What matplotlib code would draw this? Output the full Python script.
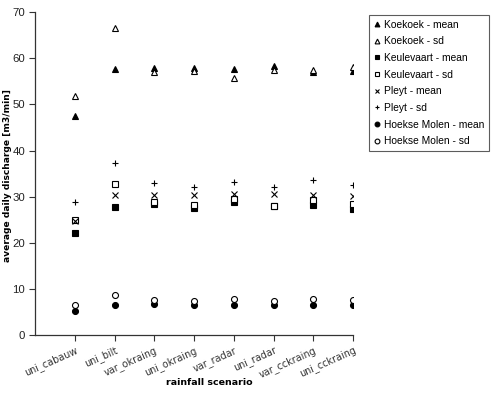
import matplotlib
matplotlib.use("Agg")
import matplotlib.pyplot as plt
import matplotlib.transforms as mtransforms

plt.rcParams['font.family'] = ['Liberation Sans', 'DejaVu Sans']

scenarios = ["uni_cabauw", "uni_bilt", "var_okraing", "uni_okraing",
             "var_radar", "uni_radar", "var_cckraing", "uni_cckraing"]

koekoek_mean = [47.5, 57.6, 57.8, 57.8, 57.6, 58.3, 57.0, 57.3]
koekoek_sd = [51.9, 66.5, 57.1, 57.3, 55.8, 57.4, 57.5, 58.2]
keulevaart_mean = [22.2, 27.7, 28.5, 27.5, 28.8, 27.9, 28.2, 27.4]
keulevaart_sd = [24.9, 32.7, 28.9, 28.1, 29.4, 28.0, 29.3, 28.4]
pleyt_mean = [24.8, 30.4, 30.4, 30.4, 30.6, 30.5, 30.3, 30.1]
pleyt_sd = [28.9, 37.2, 32.9, 32.1, 33.2, 32.1, 33.6, 32.6]
hoekse_mean = [5.3, 6.6, 6.8, 6.6, 6.6, 6.6, 6.6, 6.6]
hoekse_sd = [6.4, 8.6, 7.5, 7.3, 7.9, 7.3, 7.9, 7.5]

fig = plt.figure(figsize=(5.0, 3.93), dpi=100)
ax = fig.add_axes([0.07, 0.1476, 0.636, 0.8214])

x = list(range(1, len(scenarios) + 1))
ms = 4.3
series = [
    ("Koekoek - mean", koekoek_mean, dict(marker='^', mfc='black', mec='black')),
    ("Koekoek - sd", koekoek_sd, dict(marker='^', mfc='white', mec='black')),
    ("Keulevaart - mean", keulevaart_mean, dict(marker='s', mfc='black', mec='black')),
    ("Keulevaart - sd", keulevaart_sd, dict(marker='s', mfc='white', mec='black')),
    ("Pleyt - mean", pleyt_mean, dict(marker='x', mfc='black', mec='black')),
    ("Pleyt - sd", pleyt_sd, dict(marker='+', mfc='black', mec='black')),
    ("Hoekse Molen - mean", hoekse_mean, dict(marker='o', mfc='black', mec='black')),
    ("Hoekse Molen - sd", hoekse_sd, dict(marker='o', mfc='white', mec='black')),
]
handles = []
for label, vals, st in series:
    h, = ax.plot(x, vals, linestyle='none', markersize=ms, markeredgewidth=0.8,
                 label=label, **st)
    handles.append(h)

ax.set_xlim(0, len(scenarios))
ax.set_ylim(0, 70)
ax.set_yticks(range(0, 71, 10))
ax.set_xticks(x)
ax.set_xticklabels(scenarios, rotation=24, ha='right', rotation_mode='anchor',
                   fontsize=6.9, family='DejaVu Sans', color='#222222')
offset = mtransforms.ScaledTranslation(0.07, 0.0, fig.dpi_scale_trans)
for lbl in ax.get_xticklabels():
    lbl.set_transform(lbl.get_transform() + offset)
ax.tick_params(axis='y', labelsize=8.2, direction='out', length=4, width=0.8,
               colors='#333333', labelcolor='#222222', pad=3)
ax.tick_params(axis='x', direction='out', length=4, width=0.8, colors='#333333',
               pad=3)
for s in ['top', 'right']:
    ax.spines[s].set_visible(False)
for s in ['left', 'bottom']:
    ax.spines[s].set_color('#333333')
    ax.spines[s].set_linewidth(0.9)

ax.set_ylabel("average daily discharge [m3/min]", fontsize=6.6, fontweight='bold',
              family='DejaVu Sans')
ax.yaxis.set_label_coords(-0.072, 0.495)
ax.set_xlabel("rainfall scenario", fontsize=6.8, fontweight='bold',
              family='DejaVu Sans')
ax.xaxis.set_label_coords(0.547, -0.133)

leg = fig.legend(handles=handles, loc='upper left',
                 bbox_to_anchor=(0.738, 0.962), fontsize=7.4, frameon=True,
                 fancybox=False, edgecolor='#333333', handlelength=0.6,
                 handletextpad=0.4, borderpad=0.45, labelspacing=0.65,
                 markerscale=0.8, borderaxespad=0)
leg.get_frame().set_linewidth(0.8)

fig.savefig("out.png", dpi=100)
